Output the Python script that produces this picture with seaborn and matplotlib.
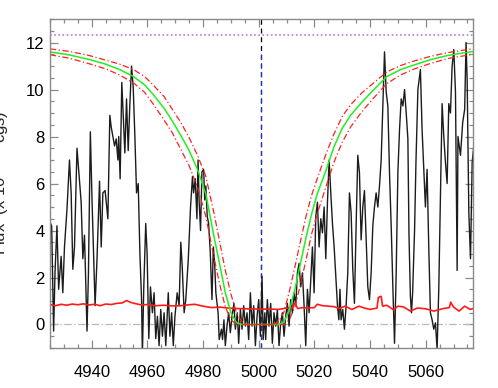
import numpy as np
import pandas as pd
import seaborn as sns
import matplotlib
matplotlib.use("Agg")
import matplotlib.pyplot as plt
from matplotlib.ticker import MultipleLocator

# ------------------------------ data ------------------------------
spec_wave = [
    4924.8, 4925.6, 4926.3, 4926.8, 4927.5, 4928.1, 4929.0, 4929.6, 4930.2, 4931.1,
    4932.0, 4932.6, 4933.2, 4933.8, 4934.7, 4935.3, 4936.2, 4936.8, 4937.4, 4938.3,
    4938.8, 4939.5, 4940.1, 4940.7, 4941.2, 4941.9, 4942.8, 4943.4, 4944.0, 4944.8,
    4945.8, 4946.5, 4947.0, 4947.6, 4948.2, 4948.8, 4949.4, 4949.7, 4950.2, 4950.8,
    4951.3, 4951.9, 4952.5, 4953.1, 4953.7, 4954.3, 4954.9, 4955.5, 4956.1, 4956.7,
    4957.3, 4957.9, 4958.2, 4958.7, 4959.4, 4959.9, 4960.5, 4961.1, 4961.8, 4962.4,
    4963.0, 4963.6, 4964.2, 4964.8, 4965.4, 4966.0, 4966.6, 4967.5, 4968.1, 4968.7,
    4969.3, 4969.9, 4970.7, 4971.4, 4972.0, 4972.5, 4973.2, 4973.8, 4974.7, 4975.5,
    4976.2, 4976.6, 4977.2, 4977.8, 4978.2, 4978.6, 4979.1, 4979.6, 4980.2, 4980.6,
    4981.0, 4981.5, 4982.0, 4982.6, 4983.2, 4983.7, 4984.2, 4984.6, 4985.4, 4985.8,
    4986.6, 4987.0, 4987.5, 4988.0, 4988.6, 4989.2, 4989.8, 4990.4, 4991.1, 4991.6,
    4992.3, 4992.8, 4993.4, 4994.0, 4994.6, 4995.2, 4995.8, 4996.4, 4997.0, 4997.6,
    4998.2, 4998.8, 4999.4, 5000.0, 5000.6, 5001.2, 5001.6, 5002.2, 5002.5, 5003.1,
    5003.7, 5004.3, 5004.9, 5005.5, 5006.1, 5006.7, 5007.3, 5007.9, 5008.5, 5009.1,
    5009.7, 5010.3, 5010.9, 5011.5, 5012.1, 5012.7, 5013.3, 5013.9, 5014.5, 5015.1,
    5015.7, 5016.3, 5016.9, 5017.5, 5018.1, 5018.7, 5019.3, 5019.9, 5020.5, 5021.1,
    5021.7, 5022.3, 5022.9, 5023.5, 5024.1, 5024.7, 5025.3, 5025.9, 5026.5, 5027.1,
    5027.7, 5028.3, 5028.8, 5029.2, 5029.6, 5030.2, 5030.8, 5031.4, 5032.0, 5032.6,
    5033.2, 5033.8, 5034.4, 5035.0, 5035.6, 5036.2, 5036.8, 5037.4, 5038.0, 5038.6,
    5039.2, 5039.8, 5040.4, 5041.0, 5041.6, 5042.2, 5042.8, 5043.4, 5044.0, 5044.6,
    5045.2, 5045.8, 5046.4, 5047.0, 5047.6, 5048.2, 5048.8, 5049.4, 5050.0, 5050.6,
    5051.2, 5051.8, 5052.4, 5053.0, 5053.6, 5054.0, 5054.5, 5054.9, 5055.3, 5056.0,
    5056.5, 5057.2, 5058.1, 5058.7, 5059.3, 5059.9, 5060.5, 5061.1, 5061.7, 5062.3,
    5062.9, 5063.5, 5064.1, 5064.7, 5065.3, 5065.9, 5066.5, 5067.1, 5067.7, 5068.3,
    5068.9, 5069.5, 5070.1, 5070.7, 5071.3, 5071.6, 5072.5, 5073.3, 5074.0, 5074.5,
    5074.9, 5075.5, 5076.1, 5076.7, 5077.3,
]
spec_flux = [
    4.4, 4.2, -0.28, 2.2, 4.2, 1.5, 2.9, 1.35, 3.3, 4.9,
    7.0, 5.6, 2.35, 3.3, 7.5, 6.6, 5.2, 2.8, 3.8, -0.28,
    2.1, 8.2, 5.3, 2.8, 0.8, 2.8, 6.1, 3.3, 5.6, 5.7,
    4.5, 8.9, 8.4, 8.0, 7.6, 7.9, 7.0, 8.0, 6.2, 10.3,
    8.9, 7.3, 9.6, 7.4, 9.4, 11.0, 10.1, 8.0, 5.6, 6.0,
    3.05, 1.06, -1.3, 1.6, 4.3, 3.0, -0.6, 1.6, 0.5, 1.35,
    -0.6, 0.35, -0.9, 0.64, -0.5, 0.5, -0.9, 1.35, -0.5, 0.5,
    -0.9, 0.35, 1.35, 0.8, 3.5, 2.5, 0.5, 1.06, 2.8, 5.0,
    6.3, 5.6, 6.2, 4.5, 7.0, 5.2, 4.0, 6.5, 6.6, 5.3,
    5.9, 4.6, 4.3, 3.05, 1.06, 3.3, 2.5, 1.35, 0.5, -0.64,
    -0.2, -0.64, 0.2, -0.9, -0.07, 0.5, -0.35, 0.35, 0.9, -0.2,
    0.5, -0.8, 0.64, -0.2, 0.8, -0.07, 0.5, -0.64, 1.35, -0.07,
    0.8, -0.9, 0.35, 1.06, -0.5, 2.05, -0.64, 0.5, -0.64, 1.06,
    -0.07, 0.9, -0.8, 0.5, -0.07, 0.64, -0.9, 0.07, 0.5, -0.5,
    0.35, 0.9, -0.07, 1.06, 0.5, 1.35, 0.8, 2.2, 2.6, 1.6,
    2.2, 0.8, -0.9, 1.5, 0.5, 1.9, 3.3, 1.35, 4.6, 5.2,
    3.3, 4.5, 3.9, 5.0, 2.8, 5.2, 7.0, 5.6, 4.3, 3.3,
    2.05, 0.8, 0.2, 1.5, 0.2, 0.64, -0.2, 0.8, 2.2, 5.6,
    4.75, 2.35, 0.9, 4.2, 7.2, 6.45, 3.6, 5.0, 5.7, 3.6,
    1.6, 1.06, 2.2, 4.2, 5.0, 5.6, 5.0, 5.9, 7.0, 9.3,
    11.6, 9.9, 9.3, 6.45, 4.2, 1.6, -0.8, 2.2, 6.45, 8.3,
    9.6, 9.3, 10.0, 9.0, 7.9, 3.8, 1.2, 0.5, 1.35, 4.0,
    6.9, 10.0, 10.85, 8.3, 6.6, 5.0, 6.6, 3.3, 0.5, 0.2,
    -0.2, 0.07, -1.06, 1.5, 5.5, 9.4, 8.0, 6.9, 6.0, 9.4,
    9.0, 11.0, 11.7, 9.9, 2.3, 8.0, 7.2, 8.6, 9.15, 12.0,
    10.4, 4.75, 2.8, 6.9, 7.6,
]

noise_wave = [
    4925, 4927, 4929, 4931, 4933, 4935, 4937, 4939, 4941, 4943,
    4945, 4947, 4949, 4951, 4952.5, 4954, 4956, 4958, 4960, 4963,
    4966, 4969, 4972, 4975, 4977, 4980, 4983, 4986, 4989, 4992,
    4995, 4998, 5001, 5004, 5007, 5010, 5012, 5013, 5014, 5016,
    5018, 5020, 5021, 5023, 5025, 5027, 5029, 5031, 5033.5, 5036,
    5038, 5040, 5042.5, 5043, 5044, 5044.5, 5046, 5048.5, 5050, 5052,
    5054.5, 5057, 5060, 5063, 5066, 5068.5, 5069, 5070, 5072, 5074,
    5076, 5077,
]
noise_flux = [
    0.85, 0.80, 0.86, 0.82, 0.87, 0.84, 0.88, 0.83, 0.86, 0.80,
    0.87, 0.85, 0.90, 0.92, 1.02, 0.94, 0.88, 0.83, 0.85, 0.80,
    0.82, 0.79, 0.80, 0.84, 0.86, 0.78, 0.72, 0.74, 0.70, 0.68,
    0.67, 0.66, 0.65, 0.66, 0.64, 0.70, 0.70, 0.92, 0.68, 0.72,
    0.70, 0.72, 0.86, 0.80, 0.78, 0.76, 0.68, 0.78, 0.64, 0.78,
    0.70, 0.64, 0.70, 1.15, 1.20, 0.78, 0.82, 0.62, 0.78, 0.75,
    0.57, 0.70, 0.67, 0.57, 0.67, 0.72, 0.95, 0.74, 0.57, 0.78,
    0.64, 0.68,
]

model_wave = [
    4925, 4932, 4939, 4945, 4950, 4955, 4959, 4962, 4966, 4969,
    4972, 4975, 4978, 4981, 4984, 4986, 4988, 4990, 4992, 4994,
    4996, 5005, 5007, 5009, 5011, 5013, 5015, 5017, 5019, 5021,
    5024, 5027, 5030, 5033, 5037, 5041, 5046, 5051, 5056, 5062,
    5068, 5077,
]
model_flux = [
    11.60, 11.47, 11.28, 11.08, 10.85, 10.55, 10.20, 9.80, 9.20, 8.65,
    8.05, 7.40, 6.60, 5.55, 3.70, 2.55, 1.35, 0.50, 0.08, 0.00,
    0.00, 0.00, 0.00, 0.10, 0.60, 1.50, 2.60, 3.70, 4.70, 5.55,
    6.50, 7.55, 8.35, 8.90, 9.45, 9.95, 10.55, 10.85, 11.05, 11.28,
    11.45, 11.62,
]
model_upper = [
    11.73, 11.62, 11.45, 11.25, 11.08, 10.85, 10.55, 10.20, 9.70, 9.15,
    8.60, 7.95, 7.20, 6.30, 4.70, 3.50, 2.30, 1.30, 0.50, 0.10,
    0.00, 0.00, 0.10, 0.50, 1.40, 2.45, 3.55, 4.60, 5.50, 6.20,
    7.20, 8.10, 8.85, 9.35, 9.85, 10.25, 10.75, 11.02, 11.22, 11.42,
    11.57, 11.74,
]
model_lower = [
    11.48, 11.33, 11.10, 10.88, 10.62, 10.28, 9.88, 9.40, 8.70, 8.15,
    7.45, 6.75, 5.85, 4.60, 2.80, 1.70, 0.75, 0.20, 0.00, 0.00,
    0.00, 0.00, 0.00, 0.00, 0.20, 0.75, 1.70, 2.75, 3.85, 4.70,
    5.80, 6.90, 7.75, 8.40, 9.05, 9.60, 10.25, 10.62, 10.88, 11.12,
    11.32, 11.50,
]

line_center = 5001.0
top_level = 12.3

x_ticks = [4940, 4960, 4980, 5000, 5020, 5040, 5060]
y_ticks = [0, 2, 4, 6, 8, 10, 12]

spec_df = pd.DataFrame({"wave": spec_wave, "flux": spec_flux})
noise_df = pd.DataFrame({"wave": noise_wave, "flux": noise_flux})
model_df = pd.DataFrame({"wave": model_wave, "mid": model_flux,
                         "upper": model_upper, "lower": model_lower})

# ------------------------------------ plot ------------------------------------
sns.set_style("ticks")
plt.rcParams["font.family"] = ["Liberation Sans", "DejaVu Sans"]

fig = plt.figure(figsize=(4.98, 3.88), dpi=100)
ax = fig.add_axes([0.1004, 0.1031, 0.8494, 0.8479])

frame = "#8a8a8a"

ax.axhline(0, color="#b8b8b8", lw=0.9, ls=(0, (6, 2, 1, 2)))
ax.axhline(top_level, color="#b27be8", lw=1.2, ls=(0, (1, 1.5)))
ax.axvline(line_center, color="black", lw=0.9, ls=(0, (4, 3)))
ax.axvline(line_center, ymin=0, ymax=(11.5 + 1.0) / 14.0, color="#2233dd",
           lw=0.9, ls=(0, (4, 3)))

sns.lineplot(data=spec_df, x="wave", y="flux", ax=ax, color="#1c1c1c",
             lw=1.0, sort=False, estimator=None)
sns.lineplot(data=noise_df, x="wave", y="flux", ax=ax, color="#ff1a1a",
             lw=1.2, sort=False, estimator=None)
sns.lineplot(data=model_df, x="wave", y="mid", ax=ax, color="#22ee22",
             lw=1.1, sort=False, estimator=None)
for col in ["upper", "lower"]:
    sns.lineplot(data=model_df, x="wave", y=col, ax=ax, color="#ff2020",
                 lw=0.9, ls=(0, (5, 2, 1, 2)), sort=False, estimator=None)

ax.set_xlim(4925, 5077)
ax.set_ylim(-1.0, 13.0)
ax.set_xticks(x_ticks)
ax.set_yticks(y_ticks)
ax.xaxis.set_minor_locator(MultipleLocator(5))
ax.yaxis.set_minor_locator(MultipleLocator(0.5))
ax.set_xlabel("")
ax.set_ylabel("")

for side in ["left", "right", "top", "bottom"]:
    ax.spines[side].set_color(frame)
    ax.spines[side].set_linewidth(1.0)
ax.tick_params(which="both", direction="in", top=True, right=True,
               color=frame, width=0.9, labelsize=12, labelcolor="black")
ax.tick_params(which="major", length=6)
ax.tick_params(which="minor", length=3)
ax.tick_params(axis="x", which="major", pad=12)
ax.tick_params(axis="y", which="major", pad=4)

fig.text(11 / 498, 0.53, "Flux  (x 10$^{-15}$  cgs)", rotation=90,
         ha="right", va="center", fontsize=12)

fig.savefig("out.png", dpi=100)
